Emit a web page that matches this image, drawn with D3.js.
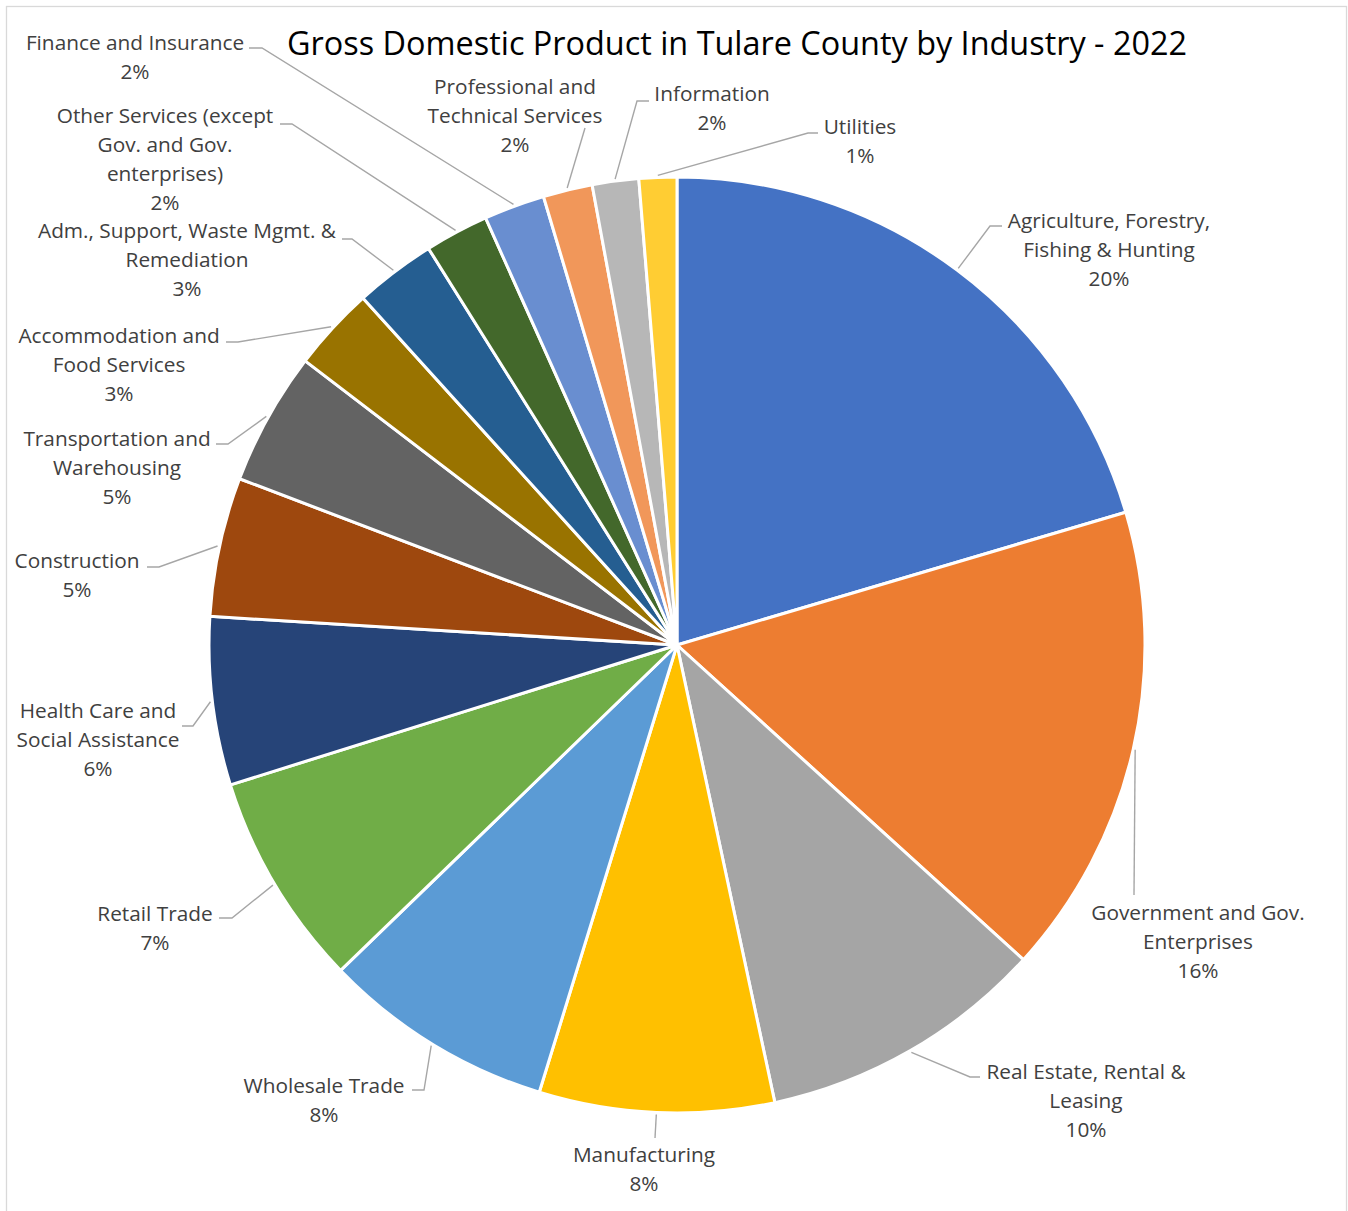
<!doctype html>
<html>
  <head>
    <title>Gross Domestic Product in Tulare County by Industry - 2022</title>
    <style>
      body { margin: 0; background: #fff; }
      svg { display: block; }
      .title { font-family: "Open Sans", Lato, sans-serif; font-size: 32.4px; fill: #000; }
      .lbl { font-family: "Open Sans", Lato, sans-serif; font-size: 20.8px; fill: #404040; }
      .leader { fill: none; stroke: #a6a6a6; stroke-width: 1.4; }
    </style>
    <script src="https://d3js.org/d3.v7.min.js"></script>
  </head>
  <body>
    <svg width="1348" height="1211"></svg>

    <script>
      // data: share of county GDP (percent)
      var industries = [
        "Agriculture, Forestry, Fishing & Hunting",
        "Government and Gov. Enterprises",
        "Real Estate, Rental & Leasing",
        "Manufacturing",
        "Wholesale Trade",
        "Retail Trade",
        "Health Care and Social Assistance",
        "Construction",
        "Transportation and Warehousing",
        "Accommodation and Food Services",
        "Adm., Support, Waste Mgmt. & Remediation",
        "Other Services (except Gov. and Gov. enterprises)",
        "Finance and Insurance",
        "Professional and Technical Services",
        "Information",
        "Utilities"
      ];
      var shares = [20.4, 16.3, 9.9, 8.1, 8.0, 7.4, 5.8, 4.8, 4.6, 2.9, 2.8, 2.2, 2.1, 1.7, 1.6, 1.3];

      // how each category name wraps in its label
      var labelLines = [
        ["Agriculture, Forestry,", "Fishing & Hunting"],
        ["Government and Gov.", "Enterprises"],
        ["Real Estate, Rental &", "Leasing"],
        ["Manufacturing"],
        ["Wholesale Trade"],
        ["Retail Trade"],
        ["Health Care and", "Social Assistance"],
        ["Construction"],
        ["Transportation and", "Warehousing"],
        ["Accommodation and", "Food Services"],
        ["Adm., Support, Waste Mgmt. &", "Remediation"],
        ["Other Services (except", "Gov. and Gov.", "enterprises)"],
        ["Finance and Insurance"],
        ["Professional and", "Technical Services"],
        ["Information"],
        ["Utilities"]
      ];

      var colors = ["#4472c4", "#ed7d31", "#a5a5a5", "#ffc000", "#5b9bd5", "#70ad47",
                    "#264478", "#9e480e", "#636363", "#997300", "#255e91", "#43682b",
                    "#698ed0", "#f1975a", "#b7b7b7", "#ffcd33"];

      // label placement (layout only): label centre, leader elbow and end
      var labelPos = [
        {x: 1109, y: 220, elbow: [990, 226], end: [1002, 226]},
        {x: 1198, y: 912, elbow: [1134, 895], end: [1134, 895]},
        {x: 1086, y: 1071, elbow: [970, 1077], end: [980, 1077]},
        {x: 644, y: 1154, elbow: [655, 1138], end: [655, 1138]},
        {x: 324, y: 1085, elbow: [424, 1090], end: [412, 1090]},
        {x: 155, y: 913, elbow: [232, 918], end: [219, 918]},
        {x: 98, y: 710, elbow: [193, 726], end: [182, 726]},
        {x: 77, y: 560, elbow: [159, 567], end: [147, 567]},
        {x: 117, y: 438, elbow: [228, 444], end: [216, 444]},
        {x: 119, y: 335, elbow: [238, 342], end: [226, 342]},
        {x: 187, y: 230, elbow: [352, 239], end: [342, 239]},
        {x: 165, y: 115, elbow: [292, 124], end: [280, 124]},
        {x: 135, y: 42, elbow: [262, 48], end: [249, 48]},
        {x: 515, y: 86, elbow: [585, 128], end: [585, 128]},
        {x: 712, y: 93, elbow: [637, 101], end: [649, 101]},
        {x: 860, y: 126, elbow: [808, 133], end: [818, 133]}
      ];

      var svg = d3.select("svg");
      var cx = 677, cy = 645, radius = 468, lineH = 29.3;

      svg.append("rect")
        .attr("x", 6.5).attr("y", 6.5)
        .attr("width", 1340).attr("height", 1220)
        .attr("fill", "#fff")
        .attr("stroke", "#d9d9d9")
        .attr("stroke-width", 1.3);

      svg.append("text")
        .attr("class", "title")
        .attr("x", 737).attr("y", 46)
        .attr("text-anchor", "middle")
        .attr("dominant-baseline", "middle")
        .text("Gross Domestic Product in Tulare County by Industry - 2022");

      var data = industries.map(function(d, i) { return {name: d, value: shares[i], i: i}; });
      var total = d3.sum(shares);

      var pie = d3.pie()
        .sort(null)
        .value(function(d) { return d.value; });
      var arcs = pie(data);

      var arc = d3.arc().innerRadius(0).outerRadius(radius);

      var g = svg.append("g").attr("transform", "translate(" + cx + "," + cy + ")");

      g.selectAll("path.slice")
        .data(arcs)
        .enter().append("path")
        .attr("class", "slice")
        .attr("d", arc)
        .attr("fill", function(d) { return colors[d.data.i]; })
        .attr("stroke", "#fff")
        .attr("stroke-width", 3)
        .attr("stroke-linejoin", "round");

      // leader lines start on the rim at the slice's mid angle
      var rim = d3.arc().innerRadius(radius + 2).outerRadius(radius + 2);

      svg.selectAll("path.leader")
        .data(arcs)
        .enter().append("path")
        .attr("class", "leader")
        .attr("d", function(d) {
          var c = rim.centroid(d);
          var p = labelPos[d.data.i];
          return d3.line()([[c[0] + cx, c[1] + cy], p.elbow, p.end]);
        });

      var fmt = function(v) { return Math.round(v / total * 100) + "%"; };

      var labels = svg.selectAll("text.lbl")
        .data(arcs)
        .enter().append("text")
        .attr("class", "lbl")
        .attr("text-anchor", "middle")
        .attr("dominant-baseline", "middle");

      labels.each(function(d) {
        var t = d3.select(this);
        var p = labelPos[d.data.i];
        var lines = labelLines[d.data.i].concat([fmt(d.data.value)]);
        lines.forEach(function(s, k) {
          t.append("tspan")
            .attr("x", p.x)
            .attr("y", p.y + 1.5 + k * lineH)
            .text(s);
        });
      });
    </script>
  </body>
</html>
